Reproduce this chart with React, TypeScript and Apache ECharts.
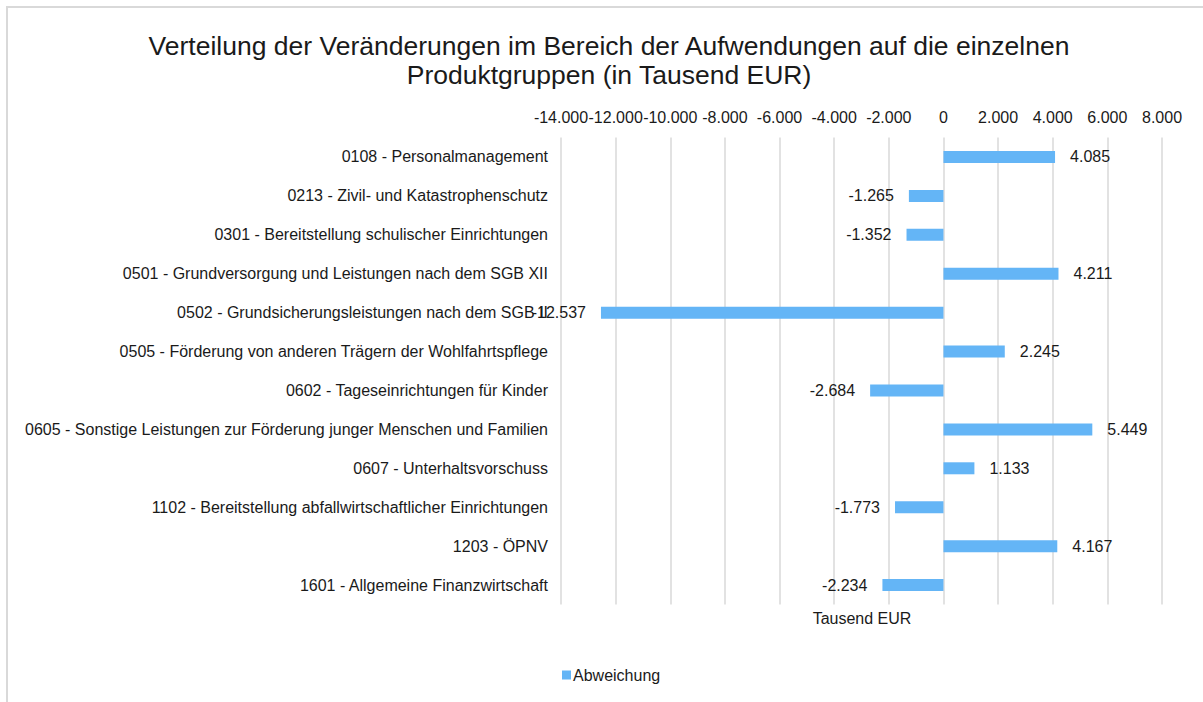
import React, { useEffect, useRef } from "react";
import * as echarts from "echarts";

const categories = [
  "0108 - Personalmanagement",
  "0213 - Zivil- und Katastrophenschutz",
  "0301 - Bereitstellung schulischer Einrichtungen",
  "0501 - Grundversorgung und Leistungen nach dem SGB XII",
  "0502 - Grundsicherungsleistungen nach dem SGB II",
  "0505 - Förderung von anderen Trägern der Wohlfahrtspflege",
  "0602 - Tageseinrichtungen für Kinder",
  "0605 - Sonstige Leistungen zur Förderung junger Menschen und Familien",
  "0607 - Unterhaltsvorschuss",
  "1102 - Bereitstellung abfallwirtschaftlicher Einrichtungen",
  "1203 - ÖPNV",
  "1601 - Allgemeine Finanzwirtschaft",
];

const abweichung = [4085, -1265, -1352, 4211, -12537, 2245, -2684, 5449, 1133, -1773, 4167, -2234];

const titleText = "Verteilung der Veränderungen im Bereich der Aufwendungen auf die einzelnen\nProduktgruppen (in Tausend EUR)";
const seriesName = "Abweichung";
const axisName = "Tausend EUR";

const fmt = (v: number) => {
  const neg = v < 0;
  const s = Math.abs(Math.round(v)).toString().replace(/\B(?=(\d{3})+(?!\d))/g, ".");
  return (neg ? "-" : "") + s;
};

const FONT = "Liberation Sans, Arial, sans-serif";
const TXT = "#1a1a1a";
const BAR = "#64b5f6";
const FS = 16;

export default function App() {
  const ref = useRef<HTMLDivElement>(null);
  useEffect(() => {
    document.body.style.margin = "0";
    const chart = echarts.init(ref.current!, null, { renderer: "svg" });
    chart.setOption({
      animation: false,
      textStyle: { fontFamily: FONT },
      title: {
        text: titleText,
        left: 609,
        top: 31,
        textAlign: "center",
        padding: 0,
        textStyle: { fontFamily: FONT, fontSize: 26.5, fontWeight: "normal", color: TXT, lineHeight: 29 },
      },
      legend: {
        data: [seriesName],
        left: 562,
        top: 667,
        padding: 0,
        itemWidth: 9,
        itemHeight: 9,
        itemGap: 3,
        icon: "rect",
        textStyle: { fontFamily: FONT, fontSize: FS, color: TXT, padding: [0, 0, 0, -3] },
      },
      grid: { left: 561, right: 41, top: 137.5, bottom: 97.5, containLabel: false },
      xAxis: {
        type: "value",
        position: "top",
        min: -14000,
        max: 8000,
        interval: 2000,
        axisLine: { show: false },
        axisTick: { show: false },
        axisLabel: { fontFamily: FONT, fontSize: FS, color: TXT, margin: 12, formatter: (v: number) => fmt(v) },
        splitLine: { show: true, lineStyle: { color: "#d9d9d9", width: 1.5 } },
      },
      yAxis: {
        type: "category",
        inverse: true,
        data: categories,
        axisLine: { show: false },
        axisTick: { show: false },
        axisLabel: { fontFamily: FONT, fontSize: FS, color: TXT, margin: 13 },
        splitLine: { show: false },
      },
      series: [
        {
          name: seriesName,
          type: "bar",
          data: abweichung.map((v) => ({
            value: v,
            label: { position: v >= 0 ? "right" : "left" },
          })),
          barWidth: 12,
          itemStyle: { color: BAR },
          label: {
            show: true,
            distance: 15,
            fontFamily: FONT,
            fontSize: FS,
            color: TXT,
            formatter: (p: any) => fmt(p.value),
          },
        },
      ],
      graphic: [
        {
          type: "rect",
          shape: { x: 7, y: 7, width: 1400, height: 900 },
          style: { fill: "none", stroke: "#d9d9d9", lineWidth: 2 },
          silent: true,
        },
        {
          type: "text",
          x: 862,
          y: 618,
          style: {
            text: axisName,
            fontFamily: FONT,
            fontSize: FS,
            fill: TXT,
            textAlign: "center",
            textVerticalAlign: "middle",
          },
        },
      ],
    });
    return () => chart.dispose();
  }, []);
  return <div ref={ref} style={{ width: 1203, height: 702 }} />;
}
